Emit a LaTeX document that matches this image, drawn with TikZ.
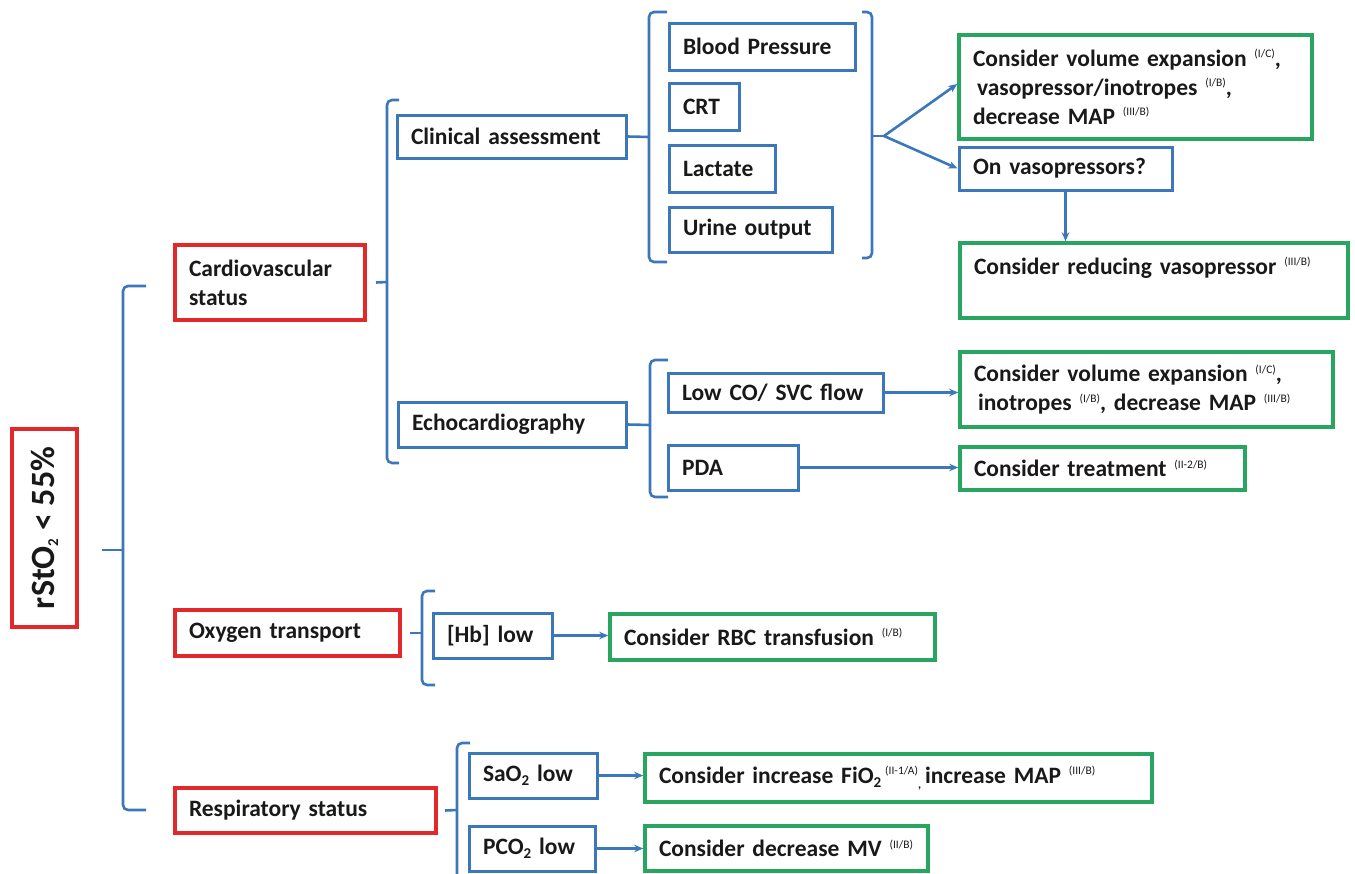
\documentclass[tikz,border=0pt]{standalone}
\usepackage{fontspec}
\setmainfont{Carlito}
\usetikzlibrary{arrows.meta}
\definecolor{myred}{RGB}{226,40,40}
\definecolor{myblue}{RGB}{60,120,185}
\definecolor{mygreen}{RGB}{40,165,95}
\definecolor{txt}{RGB}{25,25,25}
\newcommand\sr[1]{\raisebox{0.75ex}{\fontsize{11.5}{11.5}\selectfont\mdseries(#1)}}
\newcommand\subtwo[1]{\raisebox{-4pt}{\fontsize{15}{15}\selectfont #1}}
\newcommand\boxat[7]{%
  \pgfmathsetmacro\bw{#5-#3}\pgfmathsetmacro\bh{#6-#4}\pgfmathsetmacro\tw{#5-#3-28}%
  \node[#1, minimum width=\bw pt, minimum height=\bh pt, text width=\tw pt] (#2) at ({(#3+#5)/2},{(#4+#6)/2}) {#7};}
\tikzset{
  box/.style={draw, line width=3pt, inner xsep=14pt, inner ysep=2pt, align=left,
    font=\fontsize{23.5}{29}\selectfont\bfseries, text=txt},
  redbox/.style={box, draw=myred, line width=4pt},
  bluebox/.style={box, draw=myblue},
  greenbox/.style={box, draw=mygreen, line width=3.5pt},
  conn/.style={draw=myblue, line width=2.6pt},
  arr/.style={conn, -{Stealth[length=9pt,width=7.5pt]}},
  bracepath/.style={conn, rounded corners=5pt}
}
\begin{document}
\begin{tikzpicture}[x=1pt,y=-1pt]
\useasboundingbox (0,0) rectangle (1355,873);
\fill[white] (0,0) rectangle (1355,873);

% root
\node[redbox, rotate=90, minimum width=198pt, minimum height=65pt, align=center,
  font=\fontsize{34}{38}\selectfont\bfseries] (root) at (44.5,528) {rStO\subtwo{2} < 55\%};

% level 1
\boxat{redbox}{cvs}{175}{245}{365}{320}{Cardiovascular\\status}
\boxat{redbox}{ot}{175}{610}{400}{656}{Oxygen transport}
\boxat{redbox}{rs}{175}{788}{436}{833}{Respiratory status}

% level 2
\boxat{bluebox}{ca}{397}{115}{626}{158}{Clinical assessment}
\boxat{bluebox}{echo}{398}{402}{626}{447}{Echocardiography}

% clinical items
\boxat{bluebox}{bp}{669}{23}{855}{70}{Blood Pressure}
\boxat{bluebox}{crt}{669}{83}{739}{130}{CRT}
\boxat{bluebox}{lac}{669}{145}{775}{192}{Lactate}
\boxat{bluebox}{uo}{669}{207}{832}{252}{Urine output}

\boxat{greenbox}{g1}{959}{35}{1312}{139}{Consider volume expansion \sr{I/C},\\\hspace*{4pt}vasopressor/inotropes \sr{I/B},\\decrease MAP \sr{III/B}}
\boxat{bluebox}{onv}{959}{147}{1172}{190}{On vasopressors?}
\boxat{greenbox}{g2}{960}{243}{1348}{318}{Consider reducing vasopressor \sr{III/B}\\\mbox{}}

% echo items
\boxat{bluebox}{lco}{668}{373}{883}{412}{\mbox{Low CO/ SVC flow}}
\boxat{bluebox}{pda}{668}{445}{798}{490}{PDA}
\boxat{greenbox}{g3}{960}{352}{1333}{427}{Consider volume expansion \sr{I/C},\\\hspace*{4pt}inotropes \sr{I/B}, decrease MAP \sr{III/B}}
\boxat{greenbox}{g4}{960}{447}{1245}{490}{Consider treatment \sr{II-2/B}}

% oxygen
\boxat{bluebox}{hb}{433}{613}{552}{658}{\mbox{[Hb] low}}
\boxat{greenbox}{g5}{610}{614}{935}{660}{Consider RBC transfusion \sr{I/B}}

% respiratory
\boxat{bluebox}{sao}{469}{753}{597}{798}{\mbox{SaO\subtwo{2} low}}
\boxat{bluebox}{pco}{469}{826}{595}{871}{\mbox{PCO\subtwo{2} low}}
\boxat{greenbox}{g6}{645}{754}{1152}{802}{\mbox{Consider increase FiO\subtwo{2}\,\sr{II-1/A}{\fontsize{12}{12}\selectfont\raisebox{-5pt}{,}}\,increase MAP \sr{III/B}}}
\boxat{greenbox}{g7}{645}{826}{928}{871}{\mbox{Consider decrease MV \sr{II/B}}}

% braces
\coordinate (b1m) at (123,550);
\draw[bracepath] (146,286) -- (123,286) -- (123,810) -- (146,810);
\draw[conn] (102,550) -- (b1m);

\coordinate (b2m) at (387,282);
\draw[bracepath] (399,100) -- (387,100) -- (387,463) -- (399,463);
\draw[conn] ([xshift=9pt]cvs.east) -- (b2m);

\coordinate (b3m) at (649,137);
\draw[bracepath] (667,12) -- (649,12) -- (649,262) -- (667,262);
\draw[conn] (ca.east) -- (b3m);

\coordinate (b3r) at (872,136);
\coordinate (fan) at (884,136);
\draw[bracepath] (862,12) -- (872,12) -- (872,258) -- (862,258);
\draw[conn] (b3r) -- (fan);
\draw[arr] (fan) -- ([yshift=3pt]g1.west);
\draw[arr] (fan) -- (onv.west);
\draw[arr] (onv.south) -- (onv.south |- g2.north);

\coordinate (b4m) at (650,425);
\draw[bracepath] (668,360) -- (650,360) -- (650,497) -- (668,497);
\draw[conn] (echo.east) -- (b4m);
\draw[arr] (lco.east) -- (lco.east -| g3.west);
\draw[arr] (pda.east) -- (pda.east -| g4.west);

\coordinate (b5m) at (422,633);
\draw[bracepath] (435,591) -- (422,591) -- (422,685) -- (435,685);
\draw[conn] ([xshift=8pt]ot.east) -- (b5m);
\draw[arr] (hb.east) -- (hb.east -| g5.west);

\coordinate (b6m) at (457,810);
\draw[bracepath] (470,743) -- (457,743) -- (457,880);
\draw[conn] ([xshift=7pt]rs.east) -- (b6m);
\draw[arr] (sao.east) -- (sao.east -| g6.west);
\draw[arr] (pco.east) -- (pco.east -| g7.west);
\end{tikzpicture}
\end{document}
